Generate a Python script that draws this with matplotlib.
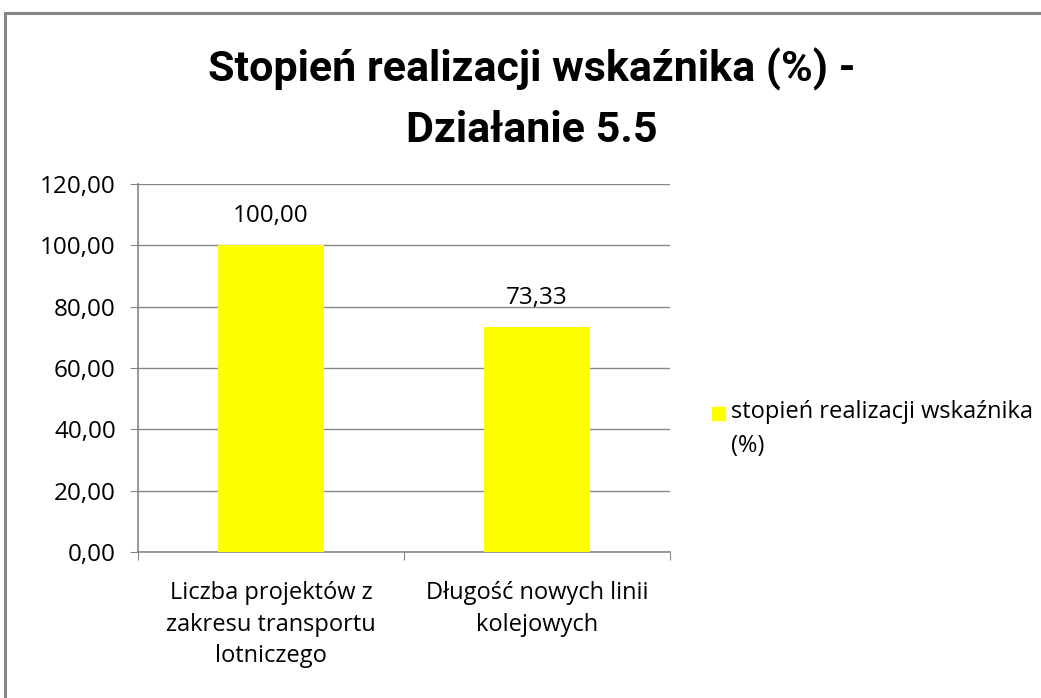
import matplotlib.pyplot as plt
from matplotlib.patches import Rectangle

categories = ["Liczba projektów z\nzakresu transportu\nlotniczego",
              "Długość nowych linii\nkolejowych"]
values = [100.00, 73.33]
yticks = [0, 20, 40, 60, 80, 100, 120]
series_name = "stopień realizacji wskaźnika\n(%)"
title = "Stopień realizacji wskaźnika (%) -\nDziałanie 5.5"

plt.rcParams['font.family'] = ['Open Sans', 'DejaVu Sans']

fig = plt.figure(figsize=(10.41, 6.98), dpi=100)
W, H = 1041, 698
# axes in pixel coords: left 137, right 670, top 184, bottom 552
ax = fig.add_axes([138 / W, 1 - 552 / H, (670 - 138) / W, (552 - 184) / H])

# outer chart border
fig.patches.append(Rectangle((5 / W, -0.01), 1.02, 1 - 13 / H + 0.01,
                             transform=fig.transFigure, fill=False,
                             edgecolor='#878787', linewidth=2.2))

x = range(len(values))
ax.bar(x, values, width=0.4, color='#ffff00', zorder=3)
ax.set_xlim(-0.5, 1.5)
ax.set_ylim(0, 120)
ax.set_yticks(yticks)
ax.set_yticklabels([f"{v:.2f}".replace('.', ',') for v in yticks], fontsize=17.5)
ax.grid(axis='y', color='#878787', linewidth=1, zorder=0)
ax.tick_params(axis='y', length=6, color='#878787', pad=10)

ax.set_xticks([-0.5, 0.5, 1.5], minor=False)
ax.set_xticklabels([])
ax.tick_params(axis='x', length=6, color='#878787', direction='out')
for i, c in enumerate(categories):
    ax.text(i, -9.5, c, ha='center', va='top', fontsize=17, linespacing=1.42)

for i, v in enumerate(values):
    ax.text(i, v + 9.5, f"{v:.2f}".replace('.', ','), ha='center',
            va='center', fontsize=17.5)

for s in ['top', 'right']:
    ax.spines[s].set_visible(False)
for s in ['left', 'bottom']:
    ax.spines[s].set_color('#878787')
    ax.spines[s].set_linewidth(1.2)

fig.text(532 / W, 1 - 99 / H, title, ha='center', va='center',
         fontsize=31, fontweight='bold', linespacing=1.6,
         family=['Roboto', 'DejaVu Sans'])

# legend
fig.patches.append(Rectangle((712 / W, 1 - 420 / H), 13 / W, 13 / H,
                             transform=fig.transFigure, color='#ffff00'))
fig.text(731 / W, 1 - 429 / H, series_name, ha='left', va='center',
         fontsize=17, linespacing=1.5)

fig.savefig('out.png', dpi=100)
